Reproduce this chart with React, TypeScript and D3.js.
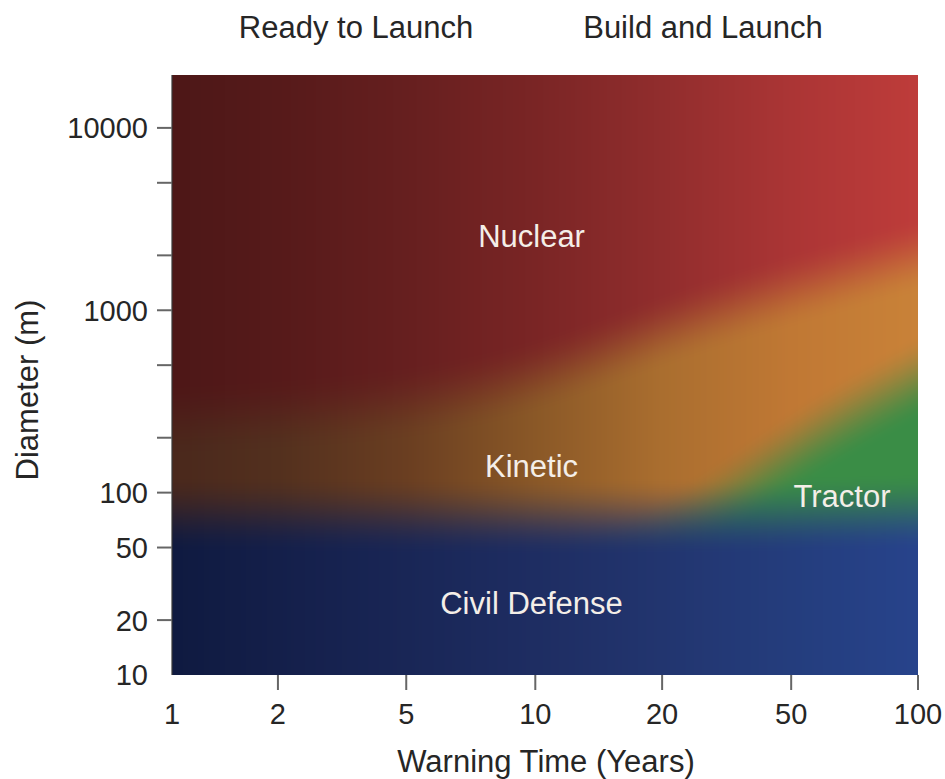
import React, { useMemo } from "react";
import * as d3 from "d3";

// ---------- data ----------
const warningYears = [1, 2, 5, 10, 20, 50, 100];
const diameterTicks = [10, 20, 50, 100, 1000, 10000];
const diameterMinorTicks = [200, 500, 2000, 5000];
const diameterMax = 19500;

// region boundaries (diameter in m) at each warningYears value
const civilDefenseTop = [76, 76, 75, 74, 74, 76, 79];
const kineticTop = [250, 265, 300, 415, 780, 1300, 2000];
const tractorTop = [25, 25, 25, 32, 50, 180, 430];

// region colours from left (1 yr) to right (100 yrs)
const nuclearColors = ["#4d1717", "#561a1a", "#661f1f", "#7a2525", "#912d2d", "#ab3535", "#be3c3a"];
const kineticColors = ["#4a281c", "#53301e", "#6a3e21", "#8a5827", "#aa6e2f", "#c07834", "#c98238"];
const civilColors = ["#0f1a40", "#141f4a", "#192656", "#1e2d62", "#22356f", "#243d7d", "#27438b"];
const tractorColor = "#3a8d46";

const regionNames = ["Nuclear", "Kinetic", "Tractor", "Civil Defense"];
const regionYears = [9.8, 9.8, 66, 9.8];
const regionDiameters = [2550, 141, 96, 25];

const phaseLabels = ["Ready to Launch", "Build and Launch"];

// ---------- layout ----------
const WIDTH = 945;
const HEIGHT = 779;
const M = { left: 172, right: 918, top: 75, bottom: 675 };
const X_FRACTIONS = [0, 0.142, 0.314, 0.487, 0.657, 0.83, 1];
const FONT = "'Liberation Sans', Arial, Helvetica, sans-serif";
const TEXT = "#262626";

function smooth(d: number, w: number) {
  let t = (d + w) / (2 * w);
  t = t < 0 ? 0 : t > 1 ? 1 : t;
  return t * t * (3 - 2 * t);
}

export default function App() {
  const pw = M.right - M.left;
  const ph = M.bottom - M.top;

  const xLin = d3
    .scaleLinear()
    .domain(warningYears.map(Math.log10))
    .range(X_FRACTIONS.map((f) => M.left + f * pw))
    .clamp(true);
  const x = (v: number) => xLin(Math.log10(v));
  const y = d3.scaleLog().domain([diameterTicks[0], diameterMax]).range([M.bottom, M.top]);

  const url = useMemo(() => {
    const canvas = document.createElement("canvas");
    canvas.width = pw;
    canvas.height = ph;
    const ctx = canvas.getContext("2d");
    if (!ctx) return "";
    const img = ctx.createImageData(pw, ph);
    const tickPx = warningYears.map(x);
    const n = warningYears.length - 1;
    const idx = d3.scaleLinear().domain(tickPx).range(warningYears.map((_, i) => i)).clamp(true);
    const civB = d3.interpolateBasis(civilDefenseTop.map(Math.log10));
    const kinB = d3.interpolateBasis(kineticTop.map(Math.log10));
    const trB = d3.interpolateBasis(tractorTop.map(Math.log10));
    const nucC = d3.piecewise(d3.interpolateRgb, nuclearColors);
    const kinC = d3.piecewise(d3.interpolateRgb, kineticColors);
    const civC = d3.piecewise(d3.interpolateRgb, civilColors);
    const tr = d3.rgb(tractorColor);
    const wN = 40, wC = 40, wT = 45;
    for (let i = 0; i < pw; i++) {
      const px = M.left + i + 0.5;
      const t = idx(px) / n;
      const civY = y(Math.pow(10, civB(t))) - M.top;
      const kinY = y(Math.pow(10, kinB(t))) - M.top;
      const trY = y(Math.pow(10, trB(t))) - M.top;
      const cn = d3.rgb(nucC(t));
      const ck = d3.rgb(kinC(t));
      const cc = d3.rgb(civC(t));
      for (let j = 0; j < ph; j++) {
        const py = j + 0.5;
        const a = smooth(kinY - py, wN);
        const b = smooth(py - trY, wT);
        const c = smooth(py - civY, wC);
        let r = ck.r + (cn.r - ck.r) * a;
        let g = ck.g + (cn.g - ck.g) * a;
        let bl = ck.b + (cn.b - ck.b) * a;
        r = r + (tr.r - r) * b;
        g = g + (tr.g - g) * b;
        bl = bl + (tr.b - bl) * b;
        r = r + (cc.r - r) * c;
        g = g + (cc.g - g) * c;
        bl = bl + (cc.b - bl) * c;
        const k = (j * pw + i) * 4;
        img.data[k] = r;
        img.data[k + 1] = g;
        img.data[k + 2] = bl;
        img.data[k + 3] = 255;
      }
    }
    ctx.putImageData(img, 0, 0);
    return canvas.toDataURL("image/png");
  }, []);

  const xTickShown = warningYears.filter((v, i) => i > 0);
  const yTickShown = diameterTicks.filter((v, i) => i > 0);

  return (
    <svg
      width={WIDTH}
      height={HEIGHT}
      viewBox={`0 0 ${WIDTH} ${HEIGHT}`}
      style={{ position: "absolute", left: 0, top: 0, background: "#fff" }}
      fontFamily={FONT}
    >
      <rect x={0} y={0} width={WIDTH} height={HEIGHT} fill="#fff" />
      {url && (
        <image href={url} x={M.left} y={M.top} width={pw} height={ph} preserveAspectRatio="none" />
      )}
      <line x1={M.left} x2={M.left} y1={M.top} y2={M.bottom} stroke="#3a3a3a" strokeWidth={1.2} />

      {/* phase labels */}
      <text x={356} y={38} textAnchor="middle" fontSize={31} fill={TEXT}>
        {phaseLabels[0]}
      </text>
      <text x={703} y={38} textAnchor="middle" fontSize={31} fill={TEXT}>
        {phaseLabels[1]}
      </text>

      {/* y axis */}
      {yTickShown.map((v) => (
        <line key={"yt" + v} x1={M.left - 15} x2={M.left} y1={y(v)} y2={y(v)} stroke="#666" strokeWidth={2} />
      ))}
      {diameterMinorTicks.map((v) => (
        <line key={"ym" + v} x1={M.left - 15} x2={M.left} y1={y(v)} y2={y(v)} stroke="#666" strokeWidth={2} />
      ))}
      {diameterTicks.map((v) => (
        <text key={"yl" + v} x={M.left - 24} y={y(v)} dy="0.36em" textAnchor="end" fontSize={29} fill={TEXT}>
          {v}
        </text>
      ))}
      <text transform={`translate(38, 390) rotate(-90)`} textAnchor="middle" fontSize={31} fill={TEXT}>
        Diameter (m)
      </text>

      {/* x axis */}
      {xTickShown.map((v) => (
        <line key={"xt" + v} x1={x(v)} x2={x(v)} y1={M.bottom} y2={M.bottom + 15} stroke="#666" strokeWidth={2} />
      ))}
      {warningYears.map((v) => (
        <text key={"xl" + v} x={x(v)} y={724} textAnchor="middle" fontSize={29} fill={TEXT}>
          {v}
        </text>
      ))}
      <text x={(M.left + M.right) / 2 + 1} y={772} textAnchor="middle" fontSize={31} fill={TEXT}>
        Warning Time (Years)
      </text>

      {/* region labels */}
      {regionNames.map((name, i) => (
        <text
          key={name}
          x={x(regionYears[i])}
          y={y(regionDiameters[i])}
          dy="0.36em"
          textAnchor="middle"
          fontSize={31}
          fill="#f4eee8"
        >
          {name}
        </text>
      ))}
    </svg>
  );
}
